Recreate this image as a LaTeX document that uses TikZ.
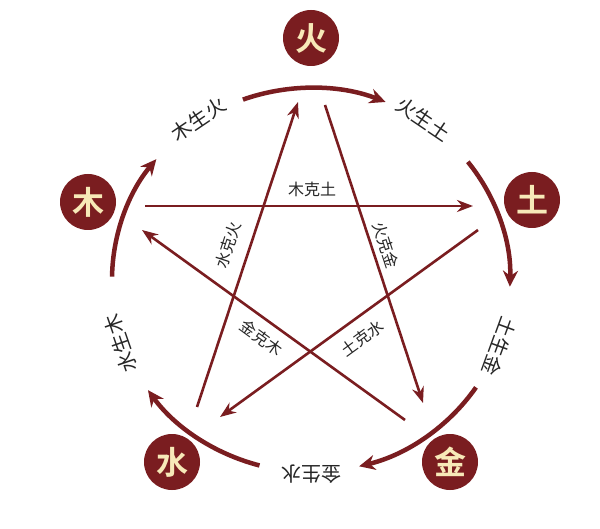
\documentclass[tikz,border=0pt]{standalone}
\usepackage{fontspec}
\newfontfamily\cjk{Noto Sans CJK SC}
\newfontfamily\cjkb{Noto Sans CJK SC Bold}
\usetikzlibrary{arrows.meta,calc}
\definecolor{wine}{HTML}{7A1D20}
\definecolor{cream}{HTML}{F7E9B8}
\begin{document}
\begin{tikzpicture}[x=1pt,y=-1pt,
  elem/.style={circle,fill=wine,minimum size=56pt,inner sep=0pt,text=cream,font=\cjkb\fontsize{32}{32}\selectfont},
  sheng/.style={draw=wine,line width=4.5pt,-{Stealth[length=16pt,width=15pt]}},
  ke/.style={draw=wine,line width=2.6pt,-{Stealth[length=16pt,width=12pt]}},
  lab/.style={text=black!85,font=\cjk\fontsize{20}{20}\selectfont,inner sep=0pt},
  klab/.style={text=black!85,font=\cjk\fontsize{16}{16}\selectfont,inner sep=0pt}]
\useasboundingbox (0,0) rectangle (600,529);
\fill[white] (0,0) rectangle (600,529);
\coordinate (C) at (311,280);
\node[elem] (huo) at (311,38) {火};
\node[elem] (tu) at (532,200) {土};
\node[elem] (jin) at (450,462) {金};
\node[elem] (shui) at (172,462) {水};
\node[elem] (mu) at (88,202) {木};
% generating arcs
\foreach \a/\b in {110/68, 38/-2, -34/-76, -105/-145, 179/141}{
  \draw[sheng] ($(C)+({199*cos(\a)},{-192*sin(\a)})$) arc[start angle=-\a,end angle=-\b,x radius=199,y radius=192];
}
\foreach \t/\r/\s/\n in {124/34/木生火/l1, 56/-34/火生土/l2, -20/-110/土生金/l3, -90/-180/金生水/l4, -161/109/水生木/l5}{
  \node[lab,rotate=\r] (\n) at ($(C)+({201*cos(\t)},{-194*sin(\t)})$) {\s};
}
% controlling lines
\coordinate (a1) at (145,206); \coordinate (a2) at (473,206);
\coordinate (b1) at (197,407); \coordinate (b2) at (298,102);
\coordinate (c1) at (325,105); \coordinate (c2) at (423,403);
\coordinate (d1) at (405,420); \coordinate (d2) at (142,230);
\coordinate (e1) at (478,230); \coordinate (e2) at (220,417);
\draw[ke] (a1) -- (a2);
\draw[ke] (b1) -- (b2);
\draw[ke] (c1) -- (c2);
\draw[ke] (d1) -- (d2);
\draw[ke] (e1) -- (e2);
\node[klab] (k1) at (312,189) {木克土};
\node[klab,rotate=72] (k2) at (228,245) {水克火};
\node[klab,rotate=-72] (k3) at (386,245) {火克金};
\node[klab,rotate=-36] (k4) at (262,338) {金克木};
\node[klab,rotate=36] (k5) at (362,338) {土克水};
\end{tikzpicture}
\end{document}
